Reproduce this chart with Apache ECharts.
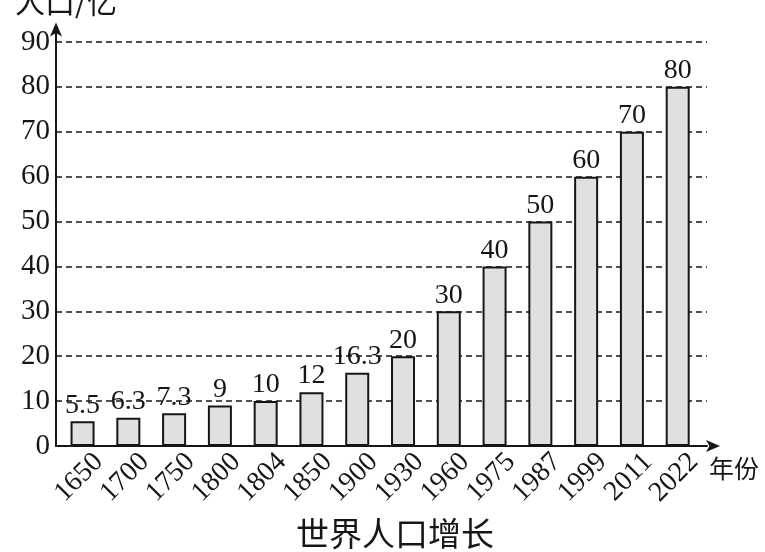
<!DOCTYPE html>
<html>
<head>
<meta charset="utf-8">
<script src="https://cdn.jsdelivr.net/npm/echarts@6/dist/echarts.min.js"></script>
<style>
  html, body { margin: 0; padding: 0; background: #fff; }
  #chart { width: 765px; height: 552px; }
</style>
</head>
<body>
<div id="chart"></div>
<script>
var years = ['1650', '1700', '1750', '1800', '1804', '1850', '1900', '1930', '1960', '1975', '1987', '1999', '2011', '2022']
var population = [5.5, 6.3, 7.3, 9, 10, 12, 16.3, 20, 30, 40, 50, 60, 70, 80]

var serif = '"Liberation Serif", "DejaVu Serif", serif'
var cjk = '"Noto Sans CJK SC", sans-serif'
var ink = '#161616'

var barData = population.map(function (v, i) { return [i, v] })

var option = {
  backgroundColor: '#fff',
  animation: false,
  title: {
    text: '世界人口增长',
    left: 390,
    textAlign: 'center',
    top: 512,
    textStyle: { fontFamily: cjk, fontSize: 33, fontWeight: 'normal', color: ink }
  },
  grid: { left: 56, right: 58, top: 28.5, bottom: 106, containLabel: false, outerBoundsMode: 'none' },
  xAxis: {
    type: 'value',
    min: -0.58,
    max: 13.64,
    name: '年份',
    nameLocation: 'end',
    nameGap: 0,
    nameTextStyle: {
      fontFamily: cjk, fontSize: 25, color: ink,
      align: 'left', verticalAlign: 'top', padding: [10, 0, 0, 0]
    },
    splitLine: { show: false },
    axisTick: { show: false },
    axisLine: {
      lineStyle: { color: ink, width: 2 },
      symbol: ['none', 'arrow'],
      symbolSize: [9, 14],
      symbolOffset: [0, 13]
    },
    axisLabel: {
      customValues: years.map(function (y, i) { return i }),
      formatter: function (v) { return years[Math.round(v)] },
      rotate: 45,
      margin: 28,
      padding: [0, -23, 0, 0],
      fontFamily: serif,
      fontSize: 28,
      color: ink
    }
  },
  yAxis: {
    type: 'value',
    min: 0,
    max: 93,
    interval: 10,
    name: '人口/亿',
    nameLocation: 'end',
    nameGap: 12,
    nameTextStyle: {
      fontFamily: cjk, fontSize: 30, color: ink,
      align: 'center', padding: [0, 0, 0, 20]
    },
    axisLine: {
      show: true,
      onZero: false,
      lineStyle: { color: ink, width: 2 },
      symbol: ['none', 'arrow'],
      symbolSize: [9, 14],
      symbolOffset: [0, 6]
    },
    axisTick: { show: false },
    axisLabel: {
      showMaxLabel: false,
      margin: 6,
      fontFamily: serif,
      fontSize: 29,
      color: ink
    },
    splitLine: {
      show: true,
      showMaxLine: false,
      lineStyle: { color: ink, width: 1.6, type: [6, 4] }
    }
  },
  series: [
    {
      type: 'bar',
      data: barData,
      barWidth: 24,
      itemStyle: { color: '#e0e0e0', borderColor: ink, borderWidth: 2 },
      label: {
        show: true,
        position: 'top',
        distance: 2,
        formatter: function (p) { return p.value[1] },
        fontFamily: serif,
        fontSize: 28,
        color: ink
      }
    }
  ]
}

var myChart = echarts.init(document.getElementById('chart'))
myChart.setOption(option)
</script>
</body>
</html>
